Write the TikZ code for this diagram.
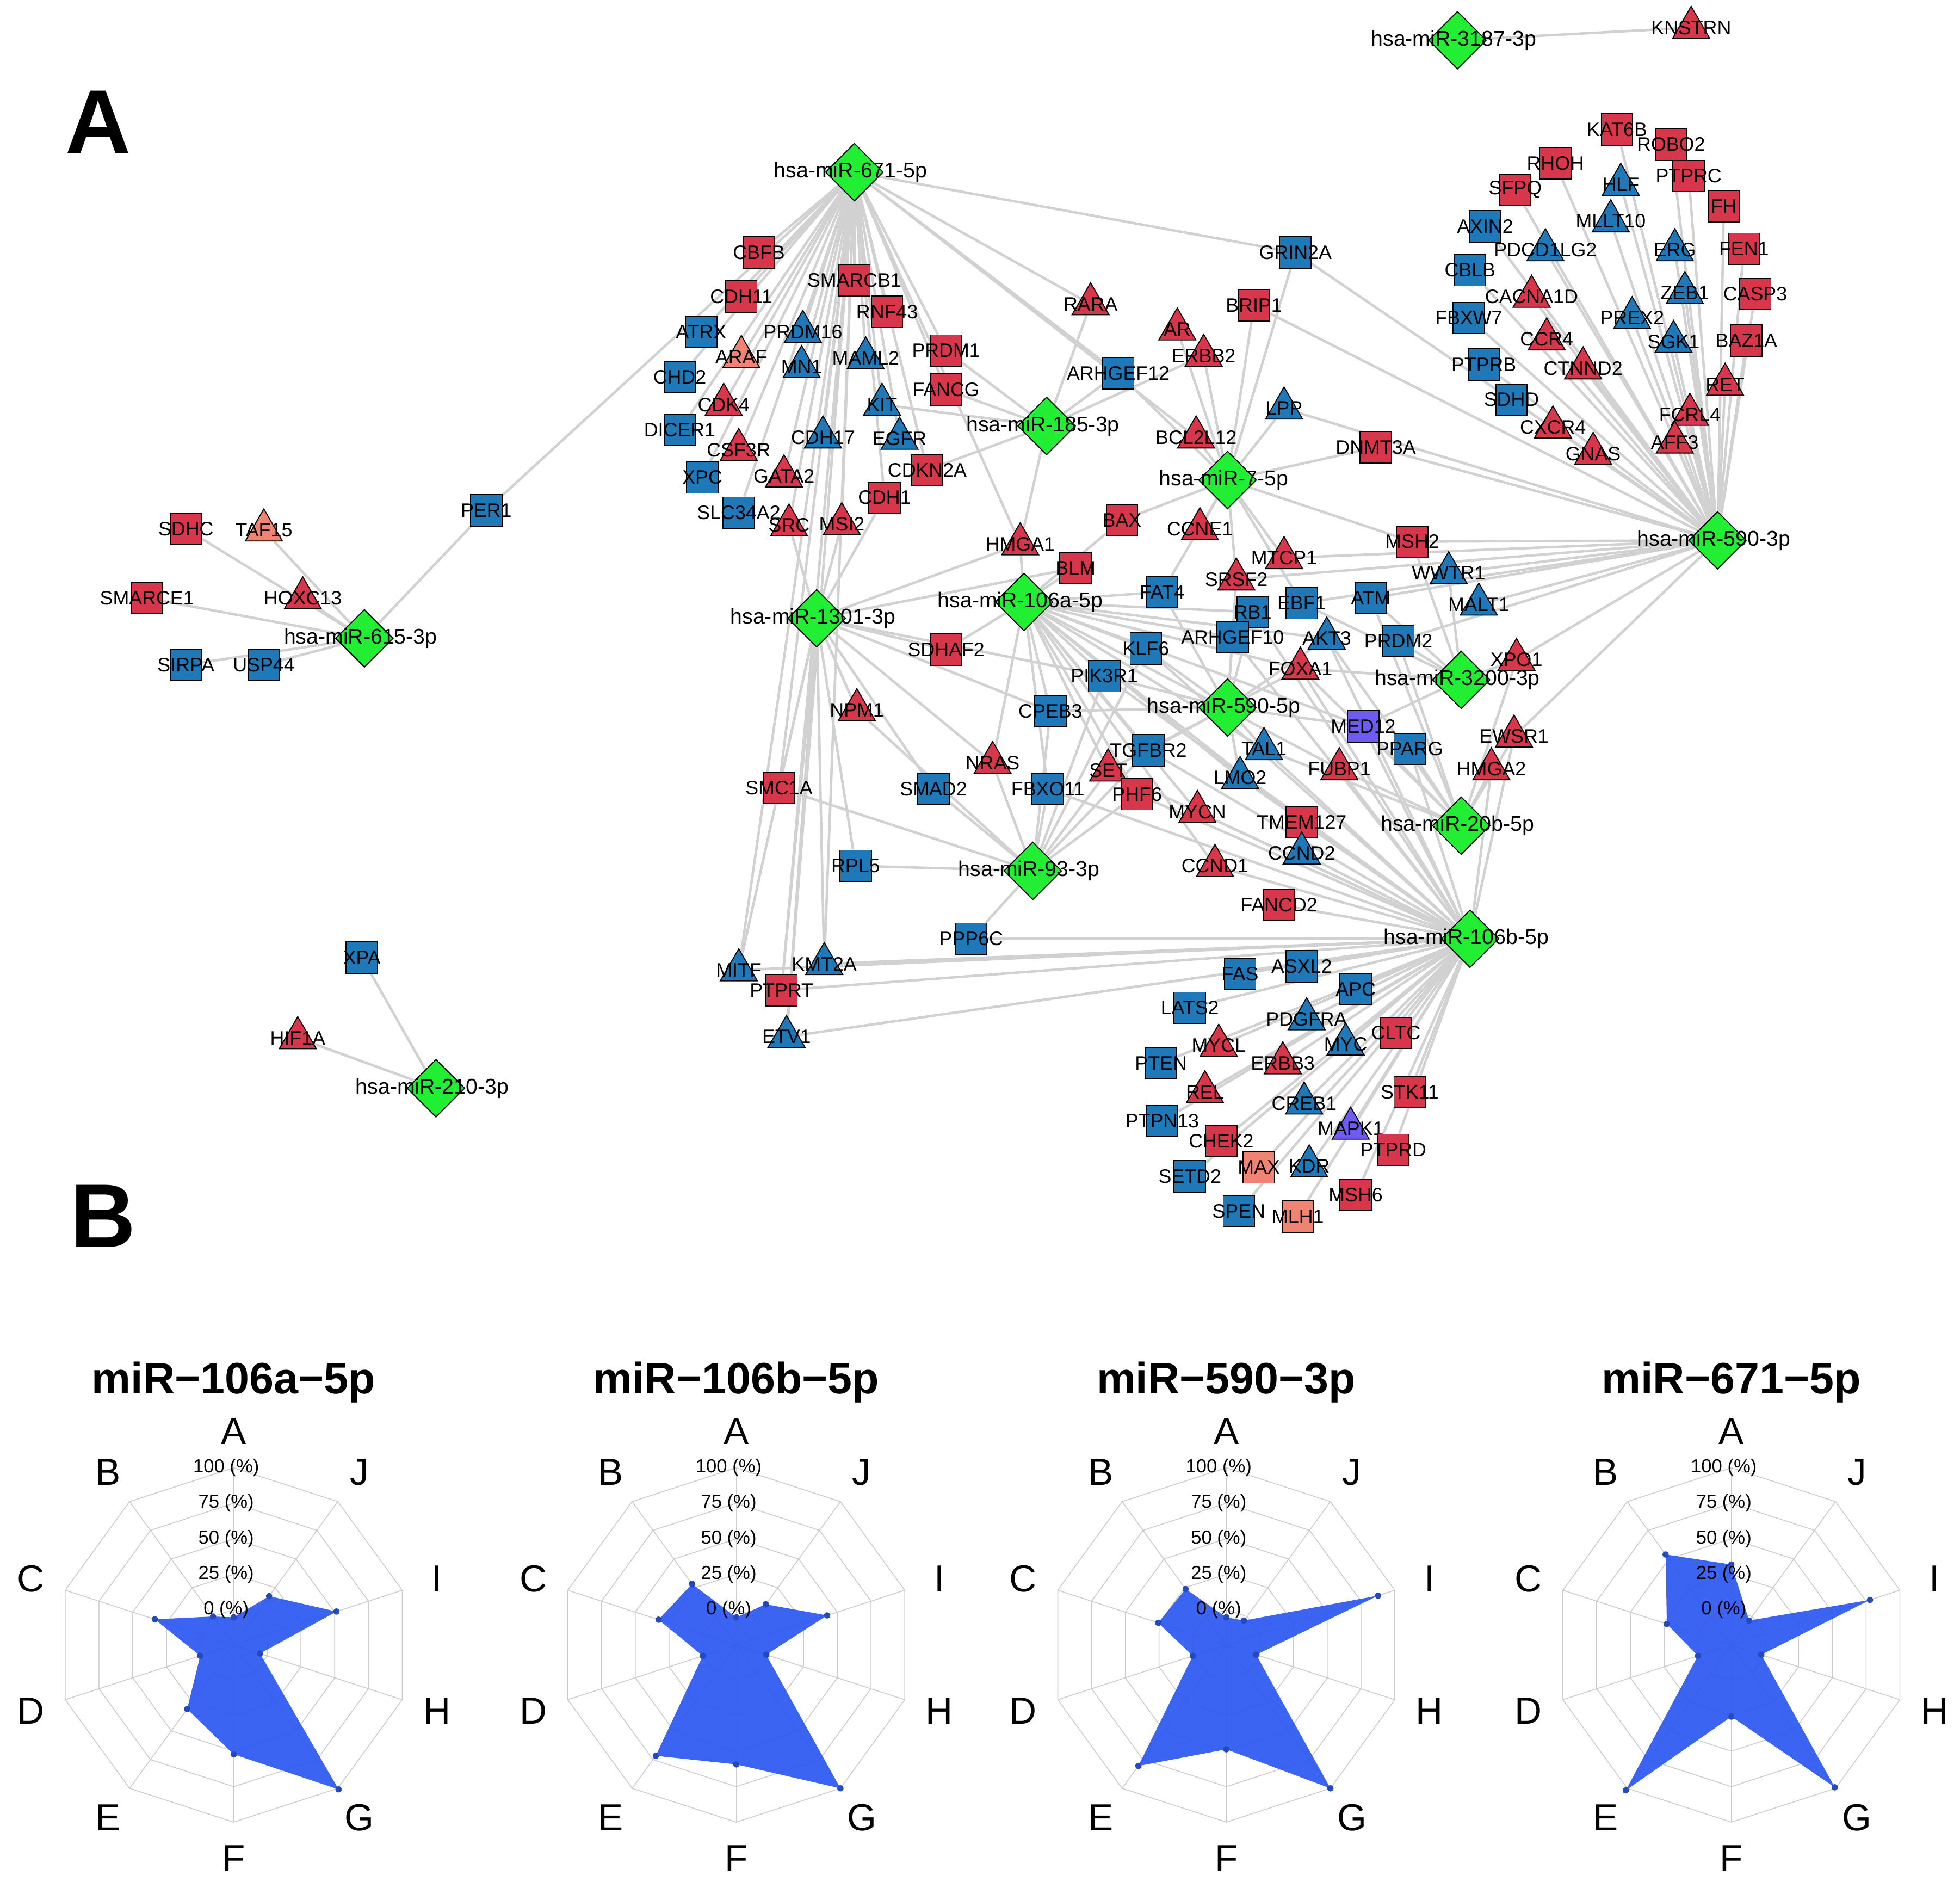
\documentclass[tikz,border=0pt]{standalone}
\usepackage{fontspec}
\setmainfont{Liberation Sans}
\usetikzlibrary{shapes.geometric,backgrounds}
\definecolor{cr}{HTML}{D8364B}
\definecolor{cb}{HTML}{1F78B8}
\definecolor{cs}{HTML}{F08472}
\definecolor{cp}{HTML}{6E5CF2}
\definecolor{cg}{HTML}{22EE33}
\definecolor{rb}{HTML}{2F5CF0}
\tikzset{
 base/.style={draw=black,line width=0.8pt,inner sep=0pt},
 sq/.style={base,rectangle,minimum size=25pt},
 tri/.style={base,regular polygon,regular polygon sides=3,minimum size=34pt},
 hub/.style={base,diamond,minimum size=46pt,fill=cg},
 R/.style={fill=cr},B/.style={fill=cb},S/.style={fill=cs},P/.style={fill=cp},
 lbl/.style={font=\fontsize{15.5}{15.5}\selectfont,inner sep=0pt},
 hlbl/.style={font=\fontsize{17}{17}\selectfont,inner sep=0pt},
 edge/.style={draw=black!18,line width=2pt},
 grid/.style={draw=black!20,line width=0.7pt},
}
\newcommand\nd[5]{\node[#4] (#1) at (#2,#3) {}; \node[lbl] at (#1) {#5};}
\newcommand\hb[4]{\node[hub] (#1) at (#2,#3) {}; \node[hlbl] at ([xshift=-3pt]#1.center) {#4};}
\newcommand\radar[2]{%
 \begin{scope}[shift={(#1,1309)},yscale=-1]
  \foreach \r in {28,56.25,84.5,112.75,141}
   \draw[grid] (90:\r) \foreach \a in {54,18,...,-234}{ -- (\a:\r)} -- cycle;
  \foreach \a in {90,54,...,-234} \draw[grid] (0,0) -- (\a:141);
  \foreach \r [count=\i] in {#2} {\pgfmathsetmacro\ang{90-36*(\i-1)} \coordinate (p\i) at (\ang:\r);}
  \fill[rb,opacity=0.95] (p1) -- (p2) -- (p3) -- (p4) -- (p5) -- (p6) -- (p7) -- (p8) -- (p9) -- (p10) -- cycle;
  \foreach \i in {1,...,10} \fill[rb!80!black] (p\i) circle (2.5pt);
  \foreach \t/\a in {A/90,J/54,I/18,H/-18,G/-54,F/-90,E/-126,D/-162,C/162,B/126}
   \node[font=\fontsize{30}{30}\selectfont] at (\a:170) {\t};
  \foreach \v/\r in {0/28,25/56.25,50/84.5,75/112.75,100/141}
   \node[font=\fontsize{15}{15}\selectfont] at (-6,\r) {\v\ (\%)};
 \end{scope}}
\begin{document}
\begin{tikzpicture}[x=1pt,y=-1pt]
\useasboundingbox (0,0) rectangle (1560,1502);
\node[font=\fontsize{72}{72}\selectfont\bfseries] at (78,97) {A};
\node[font=\fontsize{72}{72}\selectfont\bfseries] at (82,968) {B};
% hubs
\hb{m3187}{1160}{32}{hsa-miR-3187-3p}
\hb{m671}{680}{137}{hsa-miR-671-5p}
\hb{mA}{1367}{430}{hsa-miR-590-3p}
\hb{m185}{833}{339}{hsa-miR-185-3p}
\hb{m7}{977}{382}{hsa-miR-7-5p}
\hb{m615}{290}{508}{hsa-miR-615-3p}
\hb{m1301}{650}{492}{hsa-miR-1301-3p}
\hb{m106a}{815}{479}{hsa-miR-106a-5p}
\hb{mB}{977}{563}{hsa-miR-590-5p}
\hb{m3200}{1163}{541}{hsa-miR-3200-3p}
\hb{m20b}{1163}{657}{hsa-miR-20b-5p}
\hb{m93}{822}{693}{hsa-miR-93-3p}
\hb{m106b}{1170}{747}{hsa-miR-106b-5p}
\hb{m210}{347}{866}{hsa-miR-210-3p}
% right cluster
\nd{KNSTRN}{1346}{22}{tri,R}{KNSTRN}
\nd{KAT6B}{1287}{103}{sq,R}{KAT6B}
\nd{ROBO2}{1330}{115}{sq,R}{ROBO2}
\nd{RHOH}{1238}{130}{sq,R}{RHOH}
\nd{PTPRC}{1344}{140}{sq,R}{PTPRC}
\nd{HLF}{1290}{147}{tri,B}{HLF}
\nd{SFPQ}{1206}{151}{sq,R}{SFPQ}
\nd{FH}{1372}{164}{sq,R}{FH}
\nd{MLLT10}{1282}{176}{tri,B}{MLLT10}
\nd{AXIN2}{1182}{180}{sq,B}{AXIN2}
\nd{PDCD1LG2}{1230}{199}{tri,B}{PDCD1LG2}
\nd{ERG}{1333}{199}{tri,B}{ERG}
\nd{FEN1}{1388}{198}{sq,R}{FEN1}
\nd{CBLB}{1170}{215}{sq,B}{CBLB}
\nd{ZEB1}{1341}{233}{tri,B}{ZEB1}
\nd{CASP3}{1397}{234}{sq,R}{CASP3}
\nd{CACNA1D}{1219}{236}{tri,R}{CACNA1D}
\nd{FBXW7}{1169}{253}{sq,B}{FBXW7}
\nd{PREX2}{1299}{253}{tri,B}{PREX2}
\nd{CCR4}{1231}{270}{tri,R}{CCR4}
\nd{SGK1}{1332}{272}{tri,B}{SGK1}
\nd{BAZ1A}{1390}{271}{sq,R}{BAZ1A}
\nd{PTPRB}{1181}{290}{sq,B}{PTPRB}
\nd{CTNND2}{1260}{293}{tri,R}{CTNND2}
\nd{RET}{1373}{306}{tri,R}{RET}
\nd{SDHD}{1203}{318}{sq,B}{SDHD}
\nd{FCRL4}{1345}{330}{tri,R}{FCRL4}
\nd{CXCR4}{1236}{340}{tri,R}{CXCR4}
\nd{AFF3}{1333}{352}{tri,R}{AFF3}
\nd{GNAS}{1268}{361}{tri,R}{GNAS}
% middle
\nd{GRIN2A}{1031}{201}{sq,B}{GRIN2A}
\nd{BRIP1}{998}{243}{sq,R}{BRIP1}
\nd{AR}{937}{262}{tri,R}{AR}
\nd{ERBB2}{958}{283}{tri,R}{ERBB2}
\nd{RARA}{868}{242}{tri,R}{RARA}
\nd{ARHGEF12}{890}{297}{sq,B}{ARHGEF12}
\nd{LPP}{1022}{325}{tri,B}{LPP}
\nd{BCL2L12}{952}{348}{tri,R}{BCL2L12}
\nd{DNMT3A}{1095}{356}{sq,R}{DNMT3A}
\nd{CCNE1}{955}{421}{tri,R}{CCNE1}
\nd{BAX}{893}{414}{sq,R}{BAX}
\nd{HMGA1}{812}{433}{tri,R}{HMGA1}
\nd{BLM}{856}{452}{sq,R}{BLM}
\nd{FAT4}{925}{471}{sq,B}{FAT4}
\nd{MSH2}{1124}{431}{sq,R}{MSH2}
\nd{SRSF2}{984}{461}{tri,R}{SRSF2}
\nd{MTCP1}{1022}{444}{tri,R}{MTCP1}
\nd{WWTR1}{1153}{456}{tri,B}{WWTR1}
\nd{EBF1}{1036}{480}{sq,B}{EBF1}
\nd{ATM}{1091}{476}{sq,B}{ATM}
\nd{MALT1}{1177}{481}{tri,B}{MALT1}
\nd{RB1}{997}{487}{sq,B}{RB1}
\nd{ARHGEF10}{981}{507}{sq,B}{ARHGEF10}
\nd{AKT3}{1056}{508}{tri,B}{AKT3}
\nd{PRDM2}{1113}{510}{sq,B}{PRDM2}
\nd{KLF6}{912}{516}{sq,B}{KLF6}
\nd{SDHAF2}{753}{517}{sq,R}{SDHAF2}
\nd{XPO1}{1207}{525}{tri,R}{XPO1}
\nd{FOXA1}{1035}{532}{tri,R}{FOXA1}
\nd{PIK3R1}{879}{538}{sq,B}{PIK3R1}
\nd{MED12}{1085}{578}{sq,P}{MED12}
\nd{CPEB3}{836}{566}{sq,B}{CPEB3}
\nd{NPM1}{682}{565}{tri,R}{NPM1}
\nd{TAL1}{1006}{596}{tri,B}{TAL1}
\nd{PPARG}{1122}{596}{sq,B}{PPARG}
\nd{EWSR1}{1205}{586}{tri,R}{EWSR1}
\nd{TGFBR2}{914}{597}{sq,B}{TGFBR2}
\nd{NRAS}{790}{607}{tri,R}{NRAS}
\nd{SET}{882}{613}{tri,R}{SET}
\nd{FUBP1}{1066}{612}{tri,R}{FUBP1}
\nd{HMGA2}{1187}{612}{tri,R}{HMGA2}
\nd{LMO2}{987}{619}{tri,B}{LMO2}
\nd{SMC1A}{620}{627}{sq,R}{SMC1A}
\nd{SMAD2}{743}{628}{sq,B}{SMAD2}
\nd{FBXO11}{834}{628}{sq,B}{FBXO11}
\nd{PHF6}{905}{632}{sq,R}{PHF6}
\nd{MYCN}{953}{646}{tri,R}{MYCN}
\nd{TMEM127}{1036}{654}{sq,R}{TMEM127}
\nd{CCND2}{1036}{679}{tri,B}{CCND2}
\nd{CCND1}{967}{689}{tri,R}{CCND1}
\nd{RPL5}{681}{689}{sq,B}{RPL5}
\nd{FANCD2}{1018}{720}{sq,R}{FANCD2}
\nd{PPP6C}{773}{747}{sq,B}{PPP6C}
\nd{MITF}{588}{772}{tri,B}{MITF}
\nd{KMT2A}{656}{767}{tri,B}{KMT2A}
\nd{PTPRT}{622}{788}{sq,R}{PTPRT}
\nd{ETV1}{626}{825}{tri,B}{ETV1}
% bottom cluster
\nd{ASXL2}{1036}{769}{sq,B}{ASXL2}
\nd{FAS}{987}{775}{sq,B}{FAS}
\nd{APC}{1079}{787}{sq,B}{APC}
\nd{LATS2}{947}{802}{sq,B}{LATS2}
\nd{PDGFRA}{1040}{811}{tri,B}{PDGFRA}
\nd{CLTC}{1111}{822}{sq,R}{CLTC}
\nd{MYCL}{970}{832}{tri,R}{MYCL}
\nd{MYC}{1071}{831}{tri,B}{MYC}
\nd{PTEN}{924}{846}{sq,B}{PTEN}
\nd{ERBB3}{1021}{846}{tri,R}{ERBB3}
\nd{REL}{959}{869}{tri,R}{REL}
\nd{STK11}{1122}{869}{sq,R}{STK11}
\nd{CREB1}{1038}{878}{tri,B}{CREB1}
\nd{PTPN13}{925}{892}{sq,B}{PTPN13}
\nd{MAPK1}{1075}{898}{tri,P}{MAPK1}
\nd{CHEK2}{972}{908}{sq,R}{CHEK2}
\nd{PTPRD}{1109}{915}{sq,R}{PTPRD}
\nd{MAX}{1002}{929}{sq,S}{MAX}
\nd{KDR}{1042}{928}{tri,B}{KDR}
\nd{SETD2}{947}{936}{sq,B}{SETD2}
\nd{MSH6}{1079}{951}{sq,R}{MSH6}
\nd{SPEN}{986}{964}{sq,B}{SPEN}
\nd{MLH1}{1033}{968}{sq,S}{MLH1}
% 671 cluster
\nd{CBFB}{604}{201}{sq,R}{CBFB}
\nd{SMARCB1}{680}{223}{sq,R}{SMARCB1}
\nd{CDH11}{590}{236}{sq,R}{CDH11}
\nd{RNF43}{706}{248}{sq,R}{RNF43}
\nd{ATRX}{558}{264}{sq,B}{ATRX}
\nd{PRDM16}{639}{264}{tri,B}{PRDM16}
\nd{PRDM1}{753}{279}{sq,R}{PRDM1}
\nd{ARAF}{590}{284}{tri,S}{ARAF}
\nd{MAML2}{689}{285}{tri,B}{MAML2}
\nd{CHD2}{541}{300}{sq,B}{CHD2}
\nd{MN1}{638}{292}{tri,B}{MN1}
\nd{FANCG}{753}{310}{sq,R}{FANCG}
\nd{CDK4}{576}{322}{tri,R}{CDK4}
\nd{KIT}{702}{322}{tri,B}{KIT}
\nd{DICER1}{541}{342}{sq,B}{DICER1}
\nd{CDH17}{655}{348}{tri,B}{CDH17}
\nd{EGFR}{716}{349}{tri,B}{EGFR}
\nd{CSF3R}{588}{358}{tri,R}{CSF3R}
\nd{XPC}{559}{380}{sq,B}{XPC}
\nd{GATA2}{624}{379}{tri,R}{GATA2}
\nd{CDKN2A}{738}{374}{sq,R}{CDKN2A}
\nd{CDH1}{704}{396}{sq,R}{CDH1}
\nd{SLC34A2}{588}{408}{sq,B}{SLC34A2}
\nd{SRC}{628}{418}{tri,R}{SRC}
\nd{MSI2}{670}{417}{tri,R}{MSI2}
% left
\nd{PER1}{387}{406}{sq,B}{PER1}
\nd{SDHC}{148}{421}{sq,R}{SDHC}
\nd{TAF15}{210}{422}{tri,S}{TAF15}
\nd{HOXC13}{241}{476}{tri,R}{HOXC13}
\nd{SMARCE1}{117}{476}{sq,R}{SMARCE1}
\nd{SIRPA}{148}{529}{sq,B}{SIRPA}
\nd{USP44}{210}{529}{sq,B}{USP44}
\nd{XPA}{288}{762}{sq,B}{XPA}
\nd{HIF1A}{237}{826}{tri,R}{HIF1A}
\begin{scope}[on background layer]
\draw[edge] (m3187) -- (KNSTRN);
\foreach \t in {KAT6B,ROBO2,RHOH,PTPRC,HLF,SFPQ,FH,MLLT10,AXIN2,PDCD1LG2,ERG,FEN1,CBLB,ZEB1,CASP3,CACNA1D,FBXW7,PREX2,CCR4,SGK1,BAZ1A,PTPRB,CTNND2,RET,SDHD,FCRL4,CXCR4,AFF3,GNAS,GRIN2A,BRIP1,DNMT3A,LPP,MSH2,WWTR1,MALT1,XPO1,EWSR1,ATM,EBF1,MTCP1,PRDM2,SRSF2}
 \draw[edge] (mA) -- (\t);
\foreach \t in {CBFB,SMARCB1,CDH11,RNF43,ATRX,PRDM16,PRDM1,ARAF,MAML2,CHD2,MN1,FANCG,CDK4,KIT,DICER1,CDH17,EGFR,CSF3R,XPC,GATA2,CDKN2A,CDH1,SLC34A2,SRC,MSI2,PER1,RARA,ARHGEF12,GRIN2A,HMGA1,MITF,KMT2A,PTPRT,ETV1,SMC1A,BCL2L12}
 \draw[edge] (m671) -- (\t);
\foreach \t in {RARA,ARHGEF12,PRDM1,KIT,CDKN2A,HMGA1,ERBB2,FANCG}
 \draw[edge] (m185) -- (\t);
\foreach \t in {GRIN2A,BRIP1,AR,ERBB2,LPP,BCL2L12,DNMT3A,CCNE1,BAX,MTCP1,SRSF2,EBF1,FAT4,MSH2,ARHGEF12}
 \draw[edge] (m7) -- (\t);
\foreach \t in {MITF,KMT2A,PTPRT,ETV1,SMC1A,NPM1,SDHAF2,HMGA1,BLM,NRAS,SMAD2,RPL5,PIK3R1,CPEB3,MSI2,SRC,CDH1}
 \draw[edge] (m1301) -- (\t);
\foreach \t in {BLM,HMGA1,FAT4,RB1,ARHGEF10,KLF6,PIK3R1,CPEB3,SDHAF2,TGFBR2,SET,TAL1,FOXA1,LMO2,FUBP1,MYCN,PHF6,TMEM127,CCND1,FBXO11,MED12,AKT3,NRAS,BAX}
 \draw[edge] (m106a) -- (\t);
\foreach \t in {FAT4,RB1,ARHGEF10,KLF6,PIK3R1,CPEB3,TGFBR2,TAL1,LMO2,MED12,FOXA1,SET,SRSF2,AKT3}
 \draw[edge] (mB) -- (\t);
\foreach \t in {MSH2,ATM,EBF1,PRDM2,XPO1,FOXA1,MED12,WWTR1}
 \draw[edge] (m3200) -- (\t);
\foreach \t in {PPARG,EWSR1,HMGA2,FUBP1,MED12,TAL1,FOXA1,AKT3,ATM,PRDM2,XPO1}
 \draw[edge] (m20b) -- (\t);
\foreach \t in {RPL5,PPP6C,SMAD2,NRAS,CPEB3,FBXO11,SET,PHF6,TGFBR2,SMC1A,NPM1,KLF6,PIK3R1}
 \draw[edge] (m93) -- (\t);
\foreach \t in {PPP6C,MITF,KMT2A,PTPRT,ETV1,ASXL2,FAS,APC,LATS2,PDGFRA,CLTC,MYCL,MYC,PTEN,ERBB3,REL,STK11,CREB1,PTPN13,MAPK1,CHEK2,PTPRD,MAX,KDR,SETD2,MSH6,SPEN,MLH1,PPARG,EWSR1,HMGA2,MED12,FUBP1,TMEM127,CCND2,FANCD2,CCND1,MYCN,LMO2,TAL1,TGFBR2,PHF6,SET,FBXO11,KLF6,PIK3R1,ARHGEF10,RB1,AKT3,FOXA1}
 \draw[edge] (m106b) -- (\t);
\foreach \t in {PER1,SDHC,TAF15,HOXC13,SMARCE1,SIRPA,USP44}
 \draw[edge] (m615) -- (\t);
\foreach \t in {XPA,HIF1A}
 \draw[edge] (m210) -- (\t);
\end{scope}
% radar charts
\foreach \x/\t in {186/miR−106a−5p,586/miR−106b−5p,976/miR−590−3p,1378/miR−671−5p}
 \node[font=\fontsize{35}{35}\selectfont\bfseries] at (\x,1100) {\t};
\radar{186}{22,48,86,22,142,87,63,28,66,28}
\radar{586}{22,40,76,25,141,95,109,28,65,60}
\radar{976}{22,24,127,25,141,83,119,28,57,55}
\radar{1378}{64,24,116,25,140,57,143,28,54,89}
\end{tikzpicture}
\end{document}
